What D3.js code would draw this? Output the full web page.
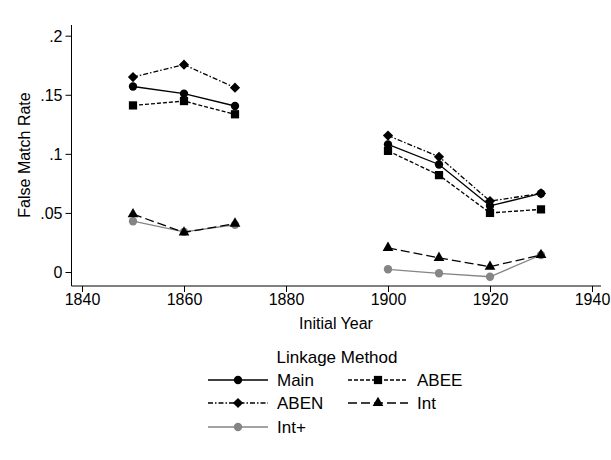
<!DOCTYPE html>
<html>
<head>
<meta charset="utf-8">
<script src="https://cdn.jsdelivr.net/npm/d3@7"></script>
<style>
  body { margin: 0; background: #fff; }
  text { font-family: "Liberation Sans", Arial, Helvetica, sans-serif; fill: #000; }
</style>
</head>
<body>
<svg id="chart" width="611" height="460"></svg>
<script>
const years = [1850, 1860, 1870, 1880, 1900, 1910, 1920, 1930];
// null at 1880 breaks each line between the two eras
const mainVals = [0.157, 0.151, 0.1405, null, 0.108, 0.091, 0.056, 0.0665];
const abeeVals = [0.141, 0.1447, 0.1335, null, 0.1025, 0.082, 0.050, 0.053];
const abenVals = [0.165, 0.1755, 0.156, null, 0.1155, 0.0975, 0.060, 0.0665];
const intVals  = [0.049, 0.0335, 0.041, null, 0.0205, 0.012, 0.0045, 0.0144];
const intpVals = [0.043, 0.034, 0.040, null, 0.0023, -0.0011, -0.004, 0.0144];

const xTicks = [1840, 1860, 1880, 1900, 1920, 1940];
const yTicks = [0, 0.05, 0.1, 0.15, 0.2];
const yTickLabels = ['0', '.05', '.1', '.15', '.2'];

const series = [
  { name: 'Main', vals: mainVals, color: '#000', dash: null,        marker: 'circle' },
  { name: 'ABEE', vals: abeeVals, color: '#000', dash: '4,2',       marker: 'square' },
  { name: 'ABEN', vals: abenVals, color: '#000', dash: '5,2,1.5,2', marker: 'diamond' },
  { name: 'Int',  vals: intVals,  color: '#000', dash: '9,4',       marker: 'triangle' },
  { name: 'Int+', vals: intpVals, color: '#858585', dash: null,     marker: 'circle' }
];

const FS = '16px';
const LFS = '17px';
const svg = d3.select('#chart');

const x = d3.scaleLinear().domain([1840, 1940]).range([82, 592]);
const y = d3.scaleLinear().domain([0, 0.2]).range([272, 35.7]);

function symbolFor(m) {
  if (m === 'circle')   return d3.symbol(d3.symbolCircle, 55);
  if (m === 'square')   return d3.symbol(d3.symbolSquare, 68);
  if (m === 'diamond')  return d3.symbol(d3.symbolSquare, 52);
  return d3.symbol(d3.symbolTriangle, 50);
}
function rot(m) { return m === 'diamond' ? ' rotate(45)' : ''; }

// ── Axes ──
const yAxis = svg.append('g')
  .attr('transform', 'translate(71.5,0)')
  .call(d3.axisLeft(y).tickValues(yTicks).tickFormat((d, i) => yTickLabels[i]).tickSize(6).tickSizeOuter(0));
yAxis.select('.domain').attr('d', 'M0,25V286').attr('stroke', '#000');
yAxis.selectAll('text').style('font-size', FS).attr('x', -9).attr('dy', '0.35em');

const xAxis = svg.append('g')
  .attr('transform', 'translate(0,286)')
  .call(d3.axisBottom(x).tickValues(xTicks).tickFormat(d3.format('d')).tickSize(6).tickSizeOuter(0));
xAxis.select('.domain').attr('d', 'M71.5,0H601').attr('stroke', '#000');
xAxis.selectAll('text').style('font-size', FS).attr('y', 8);

svg.append('text')
  .attr('transform', 'translate(30,155) rotate(-90)')
  .attr('text-anchor', 'middle')
  .style('font-size', FS)
  .text('False Match Rate');

svg.append('text')
  .attr('x', 336).attr('y', 329)
  .attr('text-anchor', 'middle')
  .style('font-size', FS)
  .text('Initial Year');

// ── Lines + markers ──
const line = d3.line()
  .defined(d => d[1] !== null)
  .x(d => x(d[0])).y(d => y(d[1]));

series.slice().reverse().forEach(s => {
  const pts = years.map((yr, i) => [yr, s.vals[i]]);
  svg.append('path').datum(pts)
    .attr('fill', 'none')
    .attr('stroke', s.color)
    .attr('stroke-width', 1.3)
    .attr('stroke-dasharray', s.dash)
    .attr('d', line);
  svg.selectAll(null).data(pts.filter(d => d[1] !== null)).enter().append('path')
    .attr('transform', d => `translate(${x(d[0])},${y(d[1])})` + rot(s.marker))
    .attr('d', symbolFor(s.marker))
    .attr('fill', s.color);
});

// ── Legend ──
svg.append('text')
  .attr('x', 337).attr('y', 363)
  .attr('text-anchor', 'middle')
  .style('font-size', LFS)
  .text('Linkage Method');

const legendPos = [
  { x: 208, y: 380 }, { x: 348, y: 380 },
  { x: 208, y: 403 }, { x: 348, y: 403 },
  { x: 208, y: 427 }
];
series.forEach((s, i) => {
  const p = legendPos[i];
  const g = svg.append('g').attr('transform', `translate(${p.x},${p.y})`);
  g.append('line')
    .attr('x1', 0).attr('x2', 60).attr('y1', 0).attr('y2', 0)
    .attr('stroke', s.color).attr('stroke-width', 1.3)
    .attr('stroke-dasharray', s.dash);
  g.append('path')
    .attr('transform', 'translate(30,0)' + rot(s.marker))
    .attr('d', symbolFor(s.marker))
    .attr('fill', s.color);
  g.append('text')
    .attr('x', 69).attr('y', 0).attr('dy', '0.35em')
    .style('font-size', LFS)
    .text(s.name);
});
</script>
</body>
</html>
